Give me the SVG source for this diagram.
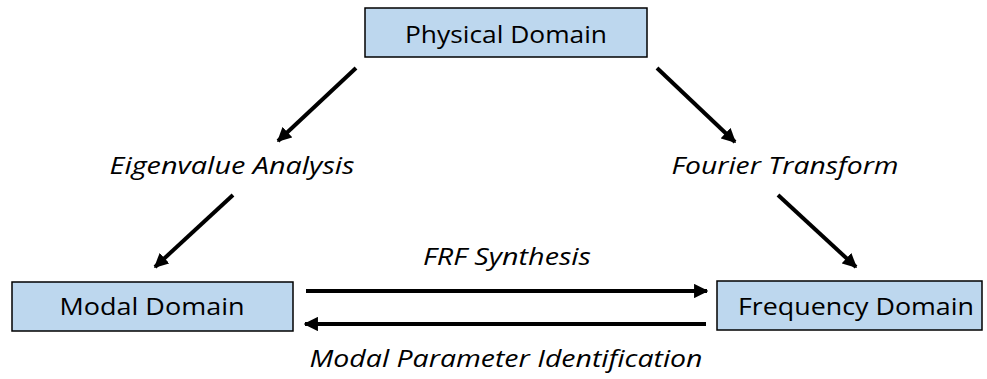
<svg xmlns="http://www.w3.org/2000/svg" width="987" height="379" viewBox="0 0 987 379">
<style>
.box{fill:#bdd7ee;stroke:#000;stroke-width:1.5}
.t{font-family:"Open Sans","Liberation Sans",sans-serif;font-size:23px;fill:#000;text-anchor:middle}
.i{font-style:italic}
.c{stroke:#000;stroke-width:4;fill:none;marker-end:url(#ah)}
</style>
<defs>
<marker id="ah" viewBox="0 0 10 10" refX="9" refY="5" markerWidth="3.6" markerHeight="3.6" orient="auto" markerUnits="strokeWidth">
<path d="M0,0 L10,5 L0,10 Z" fill="#000"/>
</marker>
</defs>
<rect width="987" height="379" fill="#fff"/>
<g id="physical">
<rect class="box" x="365" y="8" width="282" height="49"/>
<text class="t" x="506" y="43" textLength="202" lengthAdjust="spacingAndGlyphs">Physical Domain</text>
</g>
<g id="modal">
<rect class="box" x="12" y="282" width="281" height="49"/>
<text class="t" x="152" y="315" textLength="185" lengthAdjust="spacingAndGlyphs">Modal Domain</text>
</g>
<g id="frequency">
<rect class="box" x="717" y="281" width="265" height="49"/>
<text class="t" x="856" y="315" textLength="236" lengthAdjust="spacingAndGlyphs">Frequency Domain</text>
</g>
<g id="labels">
<text class="t i" x="232" y="174" textLength="245" lengthAdjust="spacingAndGlyphs">Eigenvalue Analysis</text>
<text class="t i" x="785" y="174" textLength="227" lengthAdjust="spacingAndGlyphs">Fourier Transform</text>
<text class="t i" x="507" y="265" textLength="168" lengthAdjust="spacingAndGlyphs">FRF Synthesis</text>
<text class="t i" x="506" y="367" textLength="393" lengthAdjust="spacingAndGlyphs">Modal Parameter Identification</text>
</g>
<g id="connectors">
<line class="c" x1="356" y1="68" x2="278" y2="141"/>
<line class="c" x1="657" y1="68" x2="735" y2="142"/>
<line class="c" x1="233" y1="195" x2="155" y2="267"/>
<line class="c" x1="778" y1="195" x2="856" y2="267"/>
<line class="c" x1="306" y1="291" x2="707" y2="291"/>
<line class="c" x1="706" y1="324" x2="305" y2="324"/>
</g>
</svg>
